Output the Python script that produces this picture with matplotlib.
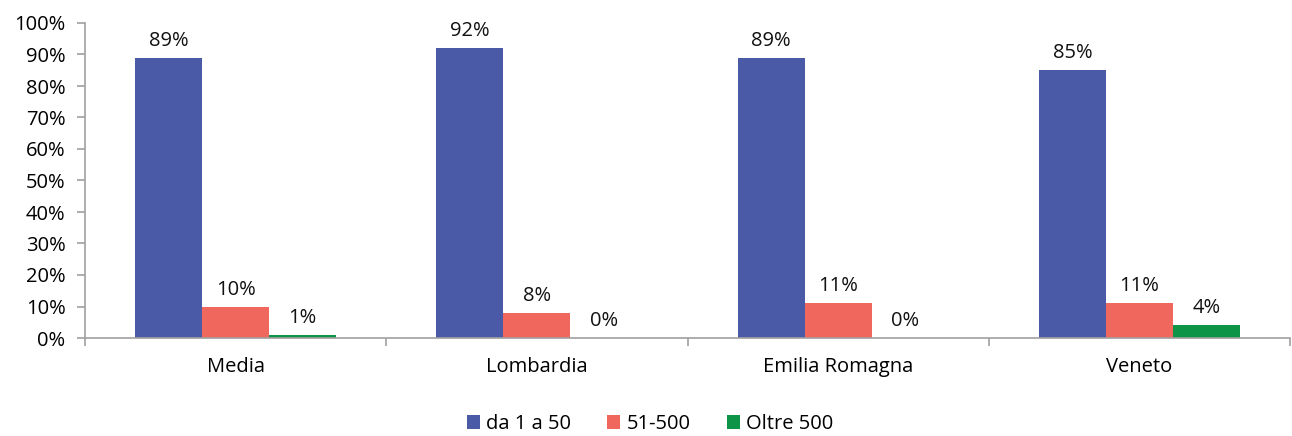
import matplotlib
matplotlib.use("Agg")
import matplotlib.pyplot as plt
import numpy as np

categories = ["Media", "Lombardia", "Emilia Romagna", "Veneto"]
series_names = ["da 1 a 50", "51-500", "Oltre 500"]
da1a50 = [89, 92, 89, 85]
s51_500 = [10, 8, 11, 11]
oltre500 = [1, 0, 0, 4]
colors = ["#4B5AA7", "#F0685D", "#0E9447"]

plt.rcParams['font.family'] = ['Open Sans', 'DejaVu Sans']
FS = 14.5

fig = plt.figure(figsize=(12.92, 4.36), dpi=100)
ax = fig.add_axes([85/1292, 98/436, (1290-85)/1292, (338-23)/436])

x = np.arange(len(categories))
w = 1/4.5
for i, (vals, name, c) in enumerate(zip([da1a50, s51_500, oltre500], series_names, colors)):
    pos = x + (i - 1) * w
    ax.bar(pos, vals, width=w, color=c, label=name, zorder=2)
    for p, v in zip(pos, vals):
        ax.annotate(f"{v}%", (p, v), xytext=(0, 5), textcoords="offset points",
                    ha="center", va="bottom", fontsize=FS, color="#111111")

ax.set_xlim(-0.5, len(categories) - 0.5)
ax.set_ylim(0, 100)
ax.set_yticks(np.arange(0, 101, 10))
ax.set_yticklabels([f"{v}%" for v in range(0, 101, 10)], fontsize=FS)
ax.set_xticks(x)
ax.set_xticklabels(categories, fontsize=FS)
ax.set_xticks(np.arange(-0.5, len(categories)), minor=True)
ax.tick_params(axis='x', which='major', length=0, pad=14)
ax.tick_params(axis='x', which='minor', length=6, color="#A0A0A0", width=1.2)
ax.tick_params(axis='y', length=6, color="#A0A0A0", width=1.2, pad=8)
for s in ["top", "right"]:
    ax.spines[s].set_visible(False)
for s in ["left", "bottom"]:
    ax.spines[s].set_color("#A0A0A0")
    ax.spines[s].set_linewidth(1.2)

leg = fig.legend(loc="center", bbox_to_anchor=(650/1292, 1 - 424/436), ncol=3, frameon=False,
                 fontsize=FS, handlelength=0.65, handleheight=0.65, handletextpad=0.3,
                 columnspacing=1.8)

fig.savefig("out.png", dpi=100)
